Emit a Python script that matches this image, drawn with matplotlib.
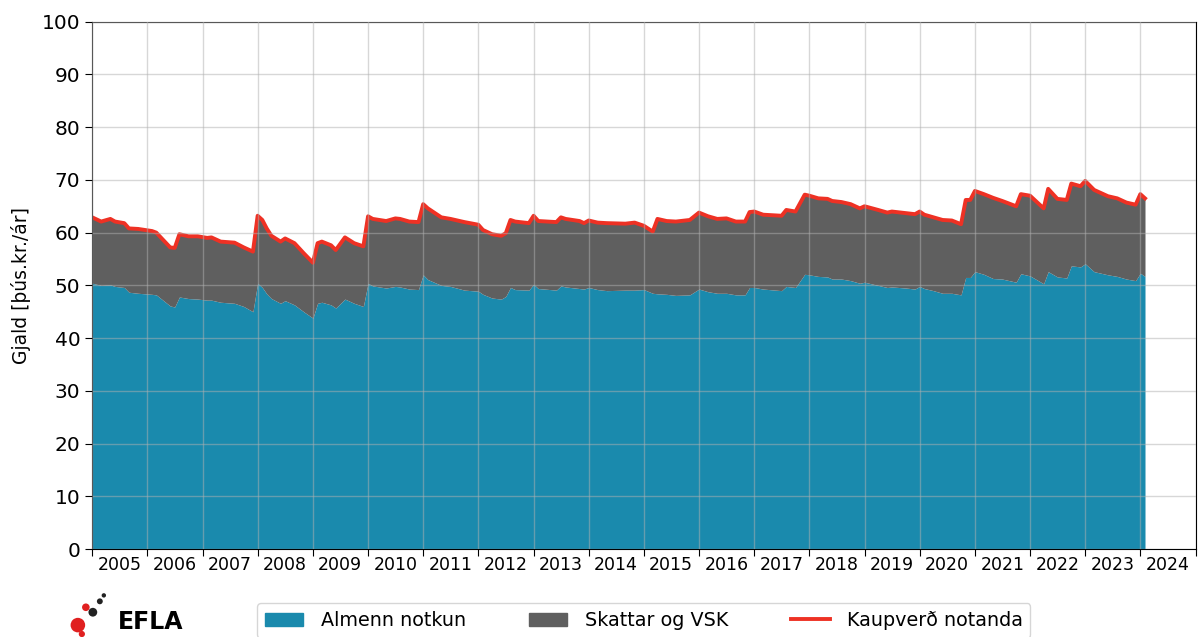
import pandas as pd
import matplotlib.pyplot as plt
import matplotlib.dates as mdates
from matplotlib.patches import Patch
from matplotlib.lines import Line2D

# ==========================
# Gögn (lesin af mynd)
# ==========================

dates = [
    "2005-01", "2005-03", "2005-05", "2005-06", "2005-08", "2005-09", "2005-11",
    "2006-02", "2006-03", "2006-06", "2006-07", "2006-08", "2006-10", "2006-12",
    "2007-02", "2007-03", "2007-05", "2007-08", "2007-10", "2007-12",
    "2008-01", "2008-02", "2008-03", "2008-04", "2008-06", "2008-07", "2008-09", "2008-11",
    "2009-01", "2009-02", "2009-03", "2009-05", "2009-06", "2009-08", "2009-10", "2009-12",
    "2010-01", "2010-02", "2010-05", "2010-07", "2010-08", "2010-10", "2010-12",
    "2011-01", "2011-02", "2011-05", "2011-07", "2011-10",
    "2012-01", "2012-02", "2012-04", "2012-06", "2012-07", "2012-08", "2012-09", "2012-12",
    "2013-01", "2013-02", "2013-06", "2013-07", "2013-08", "2013-11", "2013-12",
    "2014-01", "2014-03", "2014-05", "2014-09", "2014-11",
    "2015-01", "2015-03", "2015-04", "2015-06", "2015-08", "2015-11",
    "2016-01", "2016-03", "2016-05", "2016-07", "2016-09", "2016-11", "2016-12",
    "2017-01", "2017-03", "2017-07", "2017-08", "2017-10", "2017-12",
    "2018-01", "2018-03", "2018-05", "2018-06", "2018-08", "2018-10", "2018-12",
    "2019-01", "2019-04", "2019-06", "2019-07", "2019-10", "2019-12",
    "2020-01", "2020-02", "2020-04", "2020-06", "2020-08", "2020-10", "2020-11", "2020-12",
    "2021-01", "2021-03", "2021-05", "2021-07", "2021-10", "2021-11",
    "2022-01", "2022-04", "2022-05", "2022-07", "2022-09", "2022-10", "2022-12",
    "2023-01", "2023-03", "2023-06", "2023-08", "2023-10", "2023-12",
    "2024-01", "2024-02",
]

# Kaupverð notanda (heild)
kaupverd = [
    62.9, 62.1, 62.6, 62.1, 61.8, 60.8, 60.7,
    60.3, 60.0, 57.2, 57.1, 59.7, 59.3, 59.3,
    59.0, 59.1, 58.3, 58.1, 57.2, 56.4,
    63.2, 62.4, 60.8, 59.4, 58.3, 58.9, 58.0, 56.1,
    54.3, 58.0, 58.3, 57.6, 56.7, 59.1, 58.0, 57.4,
    63.1, 62.6, 62.2, 62.7, 62.6, 62.1, 62.0,
    65.4, 64.6, 62.9, 62.6, 62.0,
    61.5, 60.5, 59.7, 59.4, 59.9, 62.4, 62.1, 61.8,
    63.2, 62.2, 62.0, 62.9, 62.6, 62.2, 61.8,
    62.3, 61.9, 61.8, 61.7, 61.9,
    61.3, 60.2, 62.6, 62.2, 62.1, 62.4,
    63.8, 63.1, 62.6, 62.7, 62.1, 62.1, 63.9,
    64.0, 63.4, 63.2, 64.3, 64.0, 67.2,
    67.0, 66.5, 66.4, 66.0, 65.8, 65.4, 64.6,
    65.0, 64.3, 63.8, 64.0, 63.7, 63.5,
    64.0, 63.4, 62.9, 62.4, 62.3, 61.6, 66.2, 66.2,
    67.9, 67.3, 66.6, 66.0, 65.0, 67.3,
    67.0, 64.6, 68.3, 66.4, 66.2, 69.3, 68.8,
    69.8, 68.1, 66.9, 66.5, 65.7, 65.3,
    67.3, 66.5,
]

# Almenn notkun (án skatta)
almenn = [
    50.4, 50.0, 50.1, 49.8, 49.6, 48.7, 48.5,
    48.3, 48.2, 46.1, 45.9, 47.8, 47.5, 47.4,
    47.2, 47.2, 46.8, 46.6, 46.0, 45.0,
    50.4, 49.6, 48.4, 47.5, 46.6, 47.1, 46.3, 45.0,
    43.8, 46.6, 46.8, 46.3, 45.7, 47.4, 46.6, 46.0,
    50.4, 49.9, 49.5, 49.8, 49.7, 49.3, 49.2,
    52.0, 51.1, 50.0, 49.8, 49.1,
    48.9, 48.3, 47.6, 47.4, 47.9, 49.6, 49.2, 49.1,
    50.2, 49.4, 49.1, 49.9, 49.7, 49.4, 49.3,
    49.6, 49.2, 49.0, 49.1, 49.1,
    49.2, 48.5, 48.4, 48.3, 48.1, 48.2,
    49.3, 48.8, 48.5, 48.5, 48.2, 48.2, 49.6,
    49.6, 49.3, 49.0, 49.8, 49.6, 52.1,
    52.0, 51.7, 51.6, 51.2, 51.2, 50.9, 50.4,
    50.6, 50.0, 49.6, 49.7, 49.5, 49.3,
    49.8, 49.4, 49.0, 48.5, 48.5, 48.2, 51.5, 51.5,
    52.6, 52.1, 51.3, 51.2, 50.6, 52.2,
    51.8, 50.3, 52.6, 51.6, 51.4, 53.7, 53.5,
    54.1, 52.6, 52.0, 51.7, 51.2, 50.9,
    52.3, 51.7,
]

# ==========================
# Undirbúningur
# ==========================

df = pd.DataFrame({
    "Dags": pd.to_datetime(dates),
    "Almenn": almenn,
    "Heild": kaupverd,
})

blue = "#1a8aad"
grey = "#5f5f5f"
red = "#ee3124"

plt.rcParams["font.family"] = ["DejaVu Sans"]

fig = plt.figure(figsize=(11.98, 6.37), dpi=100)
ax = fig.add_axes([0.077, 0.138, 0.921, 0.828])

# ==========================
# Teikna
# ==========================

ax.fill_between(df["Dags"], 0, df["Almenn"], color=blue, lw=0)
ax.fill_between(df["Dags"], df["Almenn"], df["Heild"], color=grey, lw=0)
ax.plot(df["Dags"], df["Heild"], color=red, lw=2.8)

ax.set_xlim(pd.Timestamp("2005-01-01"), pd.Timestamp("2025-01-01"))
ax.set_ylim(0, 100)
ax.set_yticks(range(0, 101, 10))

ax.xaxis.set_major_locator(mdates.YearLocator())
ax.xaxis.set_major_formatter(plt.NullFormatter())
ax.xaxis.set_minor_locator(mdates.MonthLocator(bymonth=7))
ax.xaxis.set_minor_formatter(mdates.DateFormatter("%Y"))
ax.tick_params(axis="x", which="minor", length=0, labelsize=12.5, pad=5)
ax.tick_params(axis="x", which="major", length=5)
ax.tick_params(axis="y", labelsize=14.5, length=5)

ax.grid(True, which="major", color="#b0b0b0", alpha=0.5, lw=1)
ax.set_axisbelow(False)

ax.set_ylabel("Gjald [þús.kr./ár]", fontsize=13.5, labelpad=8)

# ==========================
# Skýringar
# ==========================

handles = [
    Patch(color=blue, label="Almenn notkun"),
    Patch(color=grey, label="Skattar og VSK"),
    Line2D([0], [0], color=red, lw=2.8, label="Kaupverð notanda"),
]
fig.legend(
    handles=handles,
    loc="upper center",
    bbox_to_anchor=(0.5375, 0.068),
    ncol=3,
    fontsize=13.8,
    columnspacing=3.3,
    handlelength=2.0,
    handletextpad=0.9,
)

# EFLA merki
fig.text(0.098, 0.004, "EFLA", fontsize=17, fontweight="bold", color="black",
         ha="left", va="bottom")
logo = fig.add_axes([0.055, 0.0, 0.04, 0.07])
logo.set_xlim(0, 48)
logo.set_ylim(0, 45)
logo.axis("off")
dot_x = [12, 20, 27, 34, 38, 16]
dot_y = [12, 30, 25, 36, 42, 3]
dot_s = [110, 30, 40, 18, 10, 20]
dot_c = ["#e02020", "#e02020", "#222222", "#222222", "#222222", "#e02020"]
logo.scatter(dot_x, dot_y, s=dot_s, c=dot_c, lw=0, clip_on=False)

fig.savefig("out.png", dpi=100)
plt.close(fig)
